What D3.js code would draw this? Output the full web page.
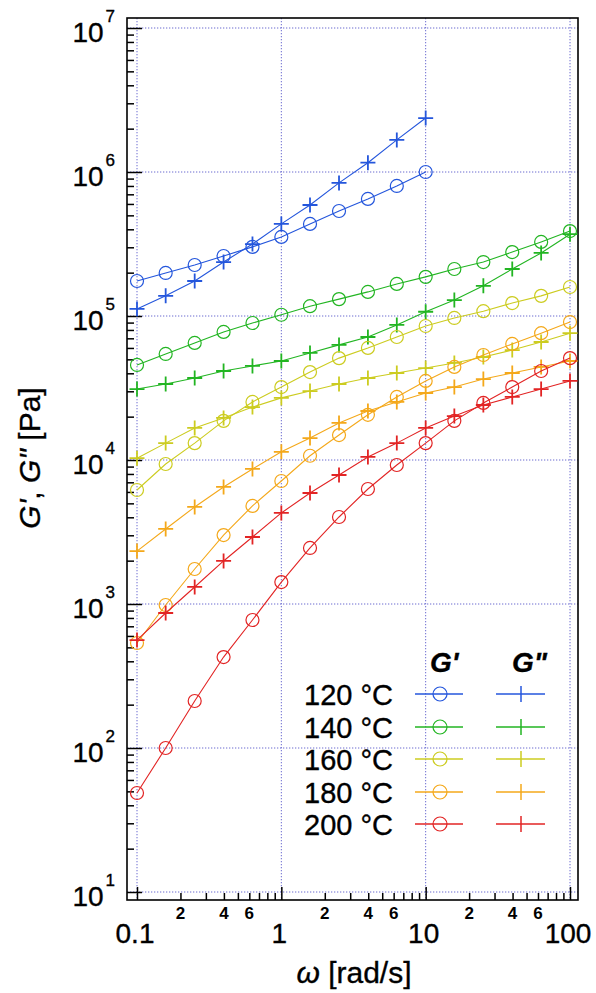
<!DOCTYPE html>
<html>
<head>
<meta charset="utf-8">
<script src="https://cdn.jsdelivr.net/npm/d3@7"></script>
<style>
  html, body { margin: 0; padding: 0; background: #fff; }
  svg { display: block; }
  text { font-family: "Liberation Sans", Arial, Helvetica, sans-serif; fill: #000; stroke: #000; stroke-width: 0.35px; }
</style>
</head>
<body>
<svg id="chart" width="596" height="993"></svg>
<script>
// ---------- data ----------
const omega = [0.1, 0.158, 0.251, 0.398, 0.631, 1, 1.58, 2.51, 3.98, 6.31, 10, 15.8, 25.1, 39.8, 63.1, 100];
const temperatures = ["120 °C", "140 °C", "160 °C", "180 °C", "200 °C"];
const colors = ["#2456dc", "#22b522", "#cccc20", "#f4a81a", "#e22424"];

const Gp120 = [1.75e5, 1.99e5, 2.26e5, 2.61e5, 3.02e5, 3.54e5, 4.36e5, 5.36e5, 6.5e5, 8.0e5, 1.0e6];
const Gpp120 = [1.12e5, 1.38e5, 1.75e5, 2.37e5, 3.16e5, 4.36e5, 5.9e5, 8.4e5, 1.16e6, 1.67e6, 2.37e6];
const Gp140 = [4.57e4, 5.45e4, 6.5e4, 7.75e4, 8.94e4, 1.02e5, 1.17e5, 1.31e5, 1.47e5, 1.67e5, 1.87e5, 2.12e5, 2.37e5, 2.78e5, 3.27e5, 3.89e5];
const Gpp140 = [3.11e4, 3.37e4, 3.71e4, 4.15e4, 4.5e4, 4.87e4, 5.54e4, 6.3e4, 7.15e4, 8.67e4, 1.07e5, 1.29e5, 1.62e5, 2.12e5, 2.74e5, 3.7e5];
const Gp160 = [6190, 9380, 1.31e4, 1.87e4, 2.53e4, 3.21e4, 4.08e4, 5.1e4, 6.0e4, 7.15e4, 8.52e4, 9.69e4, 1.08e5, 1.23e5, 1.38e5, 1.59e5];
const Gpp160 = [1.03e4, 1.31e4, 1.67e4, 1.96e4, 2.33e4, 2.7e4, 3.01e4, 3.37e4, 3.71e4, 4.02e4, 4.35e4, 4.72e4, 5.19e4, 5.8e4, 6.6e4, 7.6e4];
const Gp180 = [536, 984, 1750, 3010, 4800, 7150, 1.07e4, 1.49e4, 2.06e4, 2.74e4, 3.54e4, 4.43e4, 5.36e4, 6.4e4, 7.6e4, 9.08e4];
const Gpp180 = [2330, 3320, 4720, 6500, 8670, 1.14e4, 1.42e4, 1.81e4, 2.19e4, 2.53e4, 2.92e4, 3.21e4, 3.65e4, 4.02e4, 4.43e4, 4.87e4];
const Gp200 = [48.7, 100, 212, 428, 774, 1420, 2450, 4020, 6290, 9230, 1.31e4, 1.87e4, 2.49e4, 3.21e4, 4.15e4, 5.1e4];
const Gpp200 = [562, 866, 1313, 1990, 2920, 4290, 5900, 7870, 1.05e4, 1.31e4, 1.67e4, 2.02e4, 2.41e4, 2.74e4, 3.11e4, 3.54e4];

const GpSeries = [Gp120, Gp140, Gp160, Gp180, Gp200];
const GppSeries = [Gpp120, Gpp140, Gpp160, Gpp180, Gpp200];

const xMajorTicks = [0.1, 1, 10, 100];
const xMajorLabels = ["0.1", "1", "10", "100"];
const xMinorLabelTicks = [0.2, 0.4, 0.6, 2, 4, 6, 20, 40, 60];
const xMinorLabels = ["2", "4", "6", "2", "4", "6", "2", "4", "6"];
const yMajorTicks = [1e1, 1e2, 1e3, 1e4, 1e5, 1e6, 1e7];
const yExponents = ["1", "2", "3", "4", "5", "6", "7"];

// ---------- layout ----------
const svg = d3.select("#chart");
const x = d3.scaleLog().domain([0.1, 100]).range([137, 570]);
const y = d3.scaleLog().domain([10, 1e7]).range([892, 28]);
const frame = { left: 127, right: 578, top: 18, bottom: 900 };

function minorValues(lo, hi) {
  const out = [];
  for (let d = lo; d < hi; d *= 10) {
    for (let k = 2; k <= 9; k++) out.push(d * k);
  }
  return out;
}
const xMinor = minorValues(0.1, 100);
const yMinor = minorValues(10, 1e7);

// grid
const gridColor = "#6b6bd0";
svg.append("g").selectAll("line").data(xMajorTicks).join("line")
  .attr("x1", d => x(d)).attr("x2", d => x(d))
  .attr("y1", frame.top).attr("y2", frame.bottom)
  .attr("stroke", gridColor).attr("stroke-width", 1).attr("stroke-dasharray", "1.3,1.7");
svg.append("g").selectAll("line").data(yMajorTicks).join("line")
  .attr("y1", d => y(d)).attr("y2", d => y(d))
  .attr("x1", frame.left).attr("x2", frame.right)
  .attr("stroke", gridColor).attr("stroke-width", 1).attr("stroke-dasharray", "1.3,1.7");

// axes ticks (inward)
function styleAxis(g) {
  g.select(".domain").remove();
  g.selectAll("text").remove();
  g.selectAll("line").attr("stroke", "#000").attr("stroke-width", 1.5);
}
svg.append("g").attr("transform", `translate(0,${frame.bottom})`)
  .call(d3.axisBottom(x).tickValues(xMinor).tickSize(-7)).call(styleAxis);
svg.append("g").attr("transform", `translate(0,${frame.bottom})`)
  .call(d3.axisBottom(x).tickValues(xMajorTicks).tickSize(-13)).call(styleAxis);
svg.append("g").attr("transform", `translate(${frame.left},0)`)
  .call(d3.axisLeft(y).tickValues(yMinor).tickSize(-7)).call(styleAxis);
svg.append("g").attr("transform", `translate(${frame.left},0)`)
  .call(d3.axisLeft(y).tickValues(yMajorTicks).tickSize(-15)).call(styleAxis);

// frame
svg.append("rect")
  .attr("x", frame.left).attr("y", frame.top)
  .attr("width", frame.right - frame.left).attr("height", frame.bottom - frame.top)
  .attr("fill", "none").attr("stroke", "#000").attr("stroke-width", 1.6);

// tick labels
svg.append("g").selectAll("text").data(xMinorLabelTicks).join("text")
  .attr("x", d => x(d)).attr("y", 919)
  .attr("text-anchor", "middle").attr("font-size", 17).attr("font-weight", "bold").style("stroke-width", "0px")
  .text((d, i) => xMinorLabels[i]);
svg.append("g").selectAll("text").data(xMajorTicks).join("text")
  .attr("x", d => x(d) - 2).attr("y", 943)
  .attr("text-anchor", "middle").attr("font-size", 28)
  .text((d, i) => xMajorLabels[i]);

const yl = svg.append("g").selectAll("text").data(yMajorTicks).join("text")
  .attr("x", 115).attr("y", d => y(d) + 14)
  .attr("text-anchor", "end").attr("font-size", 28);
yl.append("tspan").text("10");
yl.append("tspan").attr("dx", 2).attr("dy", -20).attr("font-size", 17).text((d, i) => yExponents[i]);

// axis titles
const xt = svg.append("text").attr("x", 354).attr("y", 983)
  .attr("text-anchor", "middle").attr("font-size", 30);
xt.append("tspan").attr("font-style", "italic").text("ω");
xt.append("tspan").text(" [rad/s]");

const yt = svg.append("text").attr("transform", "translate(40,458) rotate(-90)")
  .attr("text-anchor", "middle").attr("font-size", 30);
yt.append("tspan").attr("font-style", "italic").text("G'");
yt.append("tspan").text(", ");
yt.append("tspan").attr("font-style", "italic").text("G\"");
yt.append("tspan").text(" [Pa]");

// ---------- series ----------
const line = d3.line().x(d => x(d[0])).y(d => y(d[1]));
const R = 6.5, P = 7.5;

function plusPath(cx, cy, s) {
  return `M${cx - s},${cy}H${cx + s}M${cx},${cy - s}V${cy + s}`;
}

temperatures.forEach((t, i) => {
  const c = colors[i];
  const gp = GpSeries[i].map((v, j) => [omega[j], v]);
  const gpp = GppSeries[i].map((v, j) => [omega[j], v]);
  const g = svg.append("g");
  g.append("path").attr("d", line(gp)).attr("fill", "none").attr("stroke", c).attr("stroke-width", 1.1);
  g.append("path").attr("d", line(gpp)).attr("fill", "none").attr("stroke", c).attr("stroke-width", 1.1);
  g.selectAll("circle").data(gp).join("circle")
    .attr("cx", d => x(d[0])).attr("cy", d => y(d[1])).attr("r", R)
    .attr("fill", "none").attr("stroke", c).attr("stroke-width", 1.2);
  g.selectAll("path.plus").data(gpp).join("path").attr("class", "plus")
    .attr("d", d => plusPath(x(d[0]), y(d[1]), P))
    .attr("fill", "none").attr("stroke", c).attr("stroke-width", 1.8);
});

// ---------- legend ----------
const legendRows = [694, 727, 759, 792, 824];
svg.append("text").attr("x", 430).attr("y", 672).attr("font-size", 28)
  .attr("font-style", "italic").attr("font-weight", "bold").text("G'");
svg.append("text").attr("x", 512).attr("y", 672).attr("font-size", 28)
  .attr("font-style", "italic").attr("font-weight", "bold").text("G\"");

temperatures.forEach((t, i) => {
  const ry = legendRows[i], c = colors[i];
  svg.append("text").attr("x", 393).attr("y", ry + 11)
    .attr("text-anchor", "end").attr("font-size", 29).text(t);
  svg.append("line").attr("x1", 415).attr("x2", 463).attr("y1", ry).attr("y2", ry)
    .attr("stroke", c).attr("stroke-width", 1.5);
  svg.append("circle").attr("cx", 440).attr("cy", ry).attr("r", 7)
    .attr("fill", "none").attr("stroke", c).attr("stroke-width", 1.2);
  svg.append("line").attr("x1", 496).attr("x2", 545).attr("y1", ry).attr("y2", ry)
    .attr("stroke", c).attr("stroke-width", 1.5);
  svg.append("line").attr("x1", 521).attr("x2", 521).attr("y1", ry - 8).attr("y2", ry + 8)
    .attr("stroke", c).attr("stroke-width", 1.5);
});
</script>
</body>
</html>
